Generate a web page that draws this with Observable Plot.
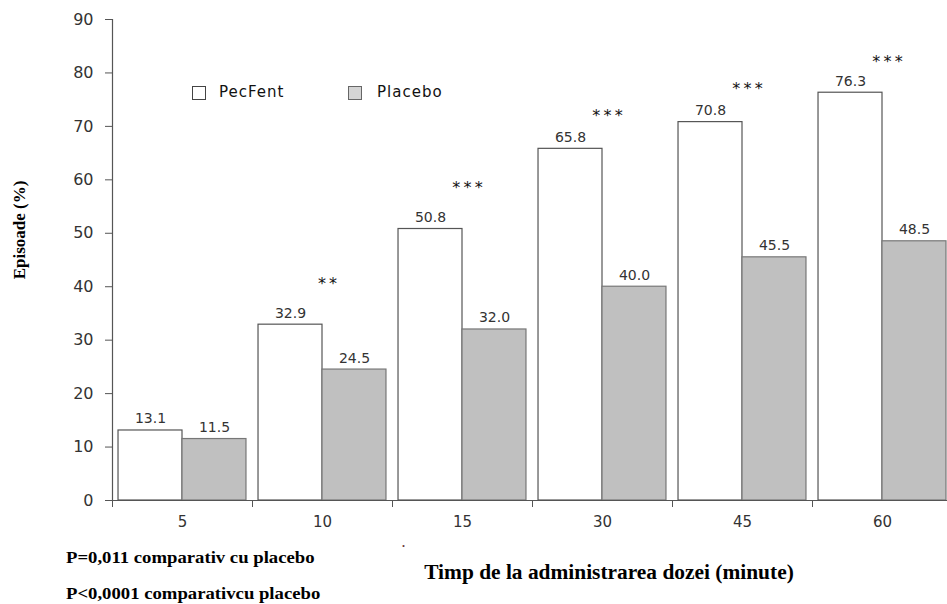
<!DOCTYPE html>
<html>
<head>
<meta charset="utf-8">
<script src="https://cdn.jsdelivr.net/npm/d3@7"></script>
<script src="https://cdn.jsdelivr.net/npm/@observablehq/plot@0.6"></script>
<style>
  html, body { margin: 0; padding: 0; background: #fff; overflow: hidden; }
  #wrap { position: relative; width: 947px; height: 604px; }
  #wrap svg { position: absolute; left: 0; top: 0; }
  .ov { position: absolute; white-space: nowrap; }
  .serif { font-family: "Liberation Serif", "Times New Roman", serif; font-weight: bold; color: #000; }
  .legend { font-family: "DejaVu Sans", sans-serif; font-size: 15px; letter-spacing: 1px; color: #111; }
  .box { position: absolute; width: 14px; height: 14px; box-sizing: border-box; }
</style>
</head>
<body>
<div id="wrap"></div>
<script>
// ---- data ----
const groups = ["5", "10", "15", "30", "45", "60"];          // minutes after dose
const pecFent = [13.1, 32.9, 50.8, 65.8, 70.8, 76.3];         // % episodes, PecFent
const placebo = [11.5, 24.5, 32.0, 40.0, 45.5, 48.5];         // % episodes, Placebo
const stars   = ["", "**", "***", "***", "***", "***"];       // significance marks
const starLevel = [null, 40.5, 58.5, 72.0, 77.0, 82.0];       // height of each mark (y units)
const yTicks = [0, 10, 20, 30, 40, 50, 60, 70, 80, 90];
const seriesNames = ["PecFent", "Placebo"];

// ---- derived table ----
const rows = [];
groups.forEach((g, i) => {
  rows.push({g, i, series: seriesNames[0], value: pecFent[i]});
  rows.push({g, i, series: seriesNames[1], value: placebo[i]});
});
const starRows = groups.map((g, i) => ({g, i, s: stars[i], y: starLevel[i]})).filter(d => d.s);

const pad = 0.043; // outer gap inside each group (fraction of group)
const bx1 = d => d.series === "PecFent" ? d.i + pad : d.i + 0.5;
const bx2 = d => d.series === "PecFent" ? d.i + 0.5 : d.i + 1 - pad;
const bxc = d => (bx1(d) + bx2(d)) / 2;

const axisColor = "#555";

const chart = Plot.plot({
  width: 947,
  height: 604,
  marginLeft: 112,
  marginRight: 0,
  marginTop: 19,
  marginBottom: 104,
  style: {fontFamily: "DejaVu Sans, sans-serif", fontSize: "16px", color: "#333", background: "transparent"},
  x: {domain: [0, groups.length], range: [112, 952], axis: null},
  y: {domain: [0, 90], axis: null, label: null},
  marks: [
    Plot.rectY(rows, {
      x1: bx1, x2: bx2, y1: 0, y2: "value",
      fill: d => d.series === "PecFent" ? "#ffffff" : "#c0c0c0",
      stroke: d => d.series === "PecFent" ? "#555" : "#777",
      strokeWidth: 1.2
    }),
    Plot.ruleY([0], {stroke: axisColor, strokeWidth: 1.2}),
    Plot.ruleX([0], {stroke: axisColor, strokeWidth: 1.2}),
    Plot.axisY({ticks: yTicks, tickSize: 7, tickPadding: 12, stroke: axisColor, label: null, fill: "#333"}),
    Plot.axisX({ticks: d3.range(0, groups.length + 1), tickSize: 7, tickFormat: () => "", stroke: axisColor, label: null}),
    Plot.axisX({ticks: groups.map((_, i) => i + 0.5), tickSize: 0, tickPadding: 16, tickFormat: d => groups[Math.floor(d)], label: null, fill: "#333", fontSize: 15}),
    Plot.text(rows, {
      x: bxc, y: "value", text: d => d.value.toFixed(1),
      dy: -7, lineAnchor: "bottom", fontSize: 14, fill: "#333"
    }),
    Plot.text(starRows, {
      x: d => d.i + 0.5, y: "y", text: d => d.s.split("").join("\u2009"),
      dx: 5, fontSize: 16, fill: "#111"
    })
  ]
});

const wrap = document.getElementById("wrap");
wrap.appendChild(chart);

function addText(html, cls, css) {
  const el = document.createElement("div");
  el.className = "ov " + cls;
  el.innerHTML = html;
  Object.assign(el.style, css);
  wrap.appendChild(el);
  return el;
}

// legend
const lb1 = document.createElement("div");
lb1.className = "box"; Object.assign(lb1.style, {left: "192px", top: "86px", background: "#fff", border: "1px solid #444"});
wrap.appendChild(lb1);
addText(seriesNames[0], "legend", {left: "219px", top: "83px"});
const lb2 = document.createElement("div");
lb2.className = "box"; Object.assign(lb2.style, {left: "348px", top: "86px", background: "#d4d4d4", border: "1px solid #666"});
wrap.appendChild(lb2);
addText(seriesNames[1], "legend", {left: "377px", top: "83px"});

// axis titles
addText("Episoade (%)", "serif", {left: "20px", top: "230px", fontSize: "17px", transform: "translate(-50%, -50%) rotate(-90deg)"});
addText("Timp de la administrarea dozei (minute)", "serif", {left: "609px", top: "572px", fontSize: "20px", transform: "translate(-50%, -50%) scaleX(1.07)"});

// footnotes
addText("P=0,011 comparativ cu placebo", "serif", {left: "66px", top: "548px", fontSize: "17px", transform: "scaleX(1.1)", transformOrigin: "left center"});
addText("P&lt;0,0001 comparativcu placebo", "serif", {left: "66px", top: "584px", fontSize: "17px", transform: "scaleX(1.1)", transformOrigin: "left center"});
addText(".", "serif", {left: "402px", top: "536px", fontSize: "12px", color: "#633"});
</script>
</body>
</html>
